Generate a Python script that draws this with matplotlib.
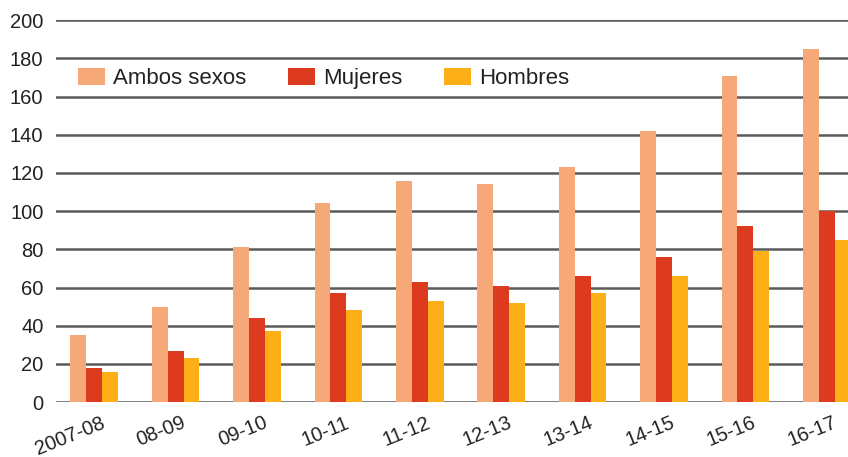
import numpy as np
import matplotlib.pyplot as plt
import matplotlib.transforms as mtransforms

# Data
periods = ['2007-08', '08-09', '09-10', '10-11', '11-12',
           '12-13', '13-14', '14-15', '15-16', '16-17']
ambos = [35, 50, 81, 104, 116, 114, 123, 142, 171, 185]
mujeres = [18, 27, 44, 57, 63, 61, 66, 76, 92, 100]
hombres = [16, 23, 37, 48, 53, 52, 57, 66, 79, 85]

c_ambos = '#F7A878'
c_muj = '#DC3B20'
c_hom = '#FCAF17'

plt.rcParams['font.family'] = ['Liberation Sans', 'DejaVu Sans']

fig = plt.figure(figsize=(8.48, 4.57), dpi=100)
ax = fig.add_axes([0.066, 0.12, 0.934, 0.836])

x = np.arange(len(periods))
w = 0.195
ax.bar(x - w, ambos, w, color=c_ambos, label='Ambos sexos', zorder=3)
ax.bar(x, mujeres, w, color=c_muj, label='Mujeres', zorder=3)
ax.bar(x + w, hombres, w, color=c_hom, label='Hombres', zorder=3)

ax.set_ylim(0, 200)
ax.set_xlim(-0.47, 9.26)
ax.set_yticks(range(0, 201, 20))
ax.yaxis.grid(True, color='#5a5a5a', linewidth=1.8, zorder=0)
ax.set_axisbelow(True)
for s in ax.spines.values():
    s.set_visible(False)

ax.set_xticks(x)
ax.set_xticklabels(periods, rotation=22, ha='right', rotation_mode='anchor')
ax.tick_params(axis='both', length=0, labelsize=14.5, labelcolor='#222222')
ax.tick_params(axis='y', pad=9)
ax.tick_params(axis='x', pad=8)
# nudge the rotated labels a little to the right, like the original
shift = mtransforms.ScaledTranslation(6 / 100, 0, fig.dpi_scale_trans)
for lbl in ax.get_xticklabels():
    lbl.set_transform(lbl.get_transform() + shift)

ax.legend(loc='center left', bbox_to_anchor=(0.028, 0.847), ncol=3, frameon=False,
          fontsize=16, handlelength=1.2, handleheight=0.77, columnspacing=1.9,
          handletextpad=0.36, borderpad=0, borderaxespad=0, labelcolor='#222222')

fig.savefig('out.png', dpi=100)
